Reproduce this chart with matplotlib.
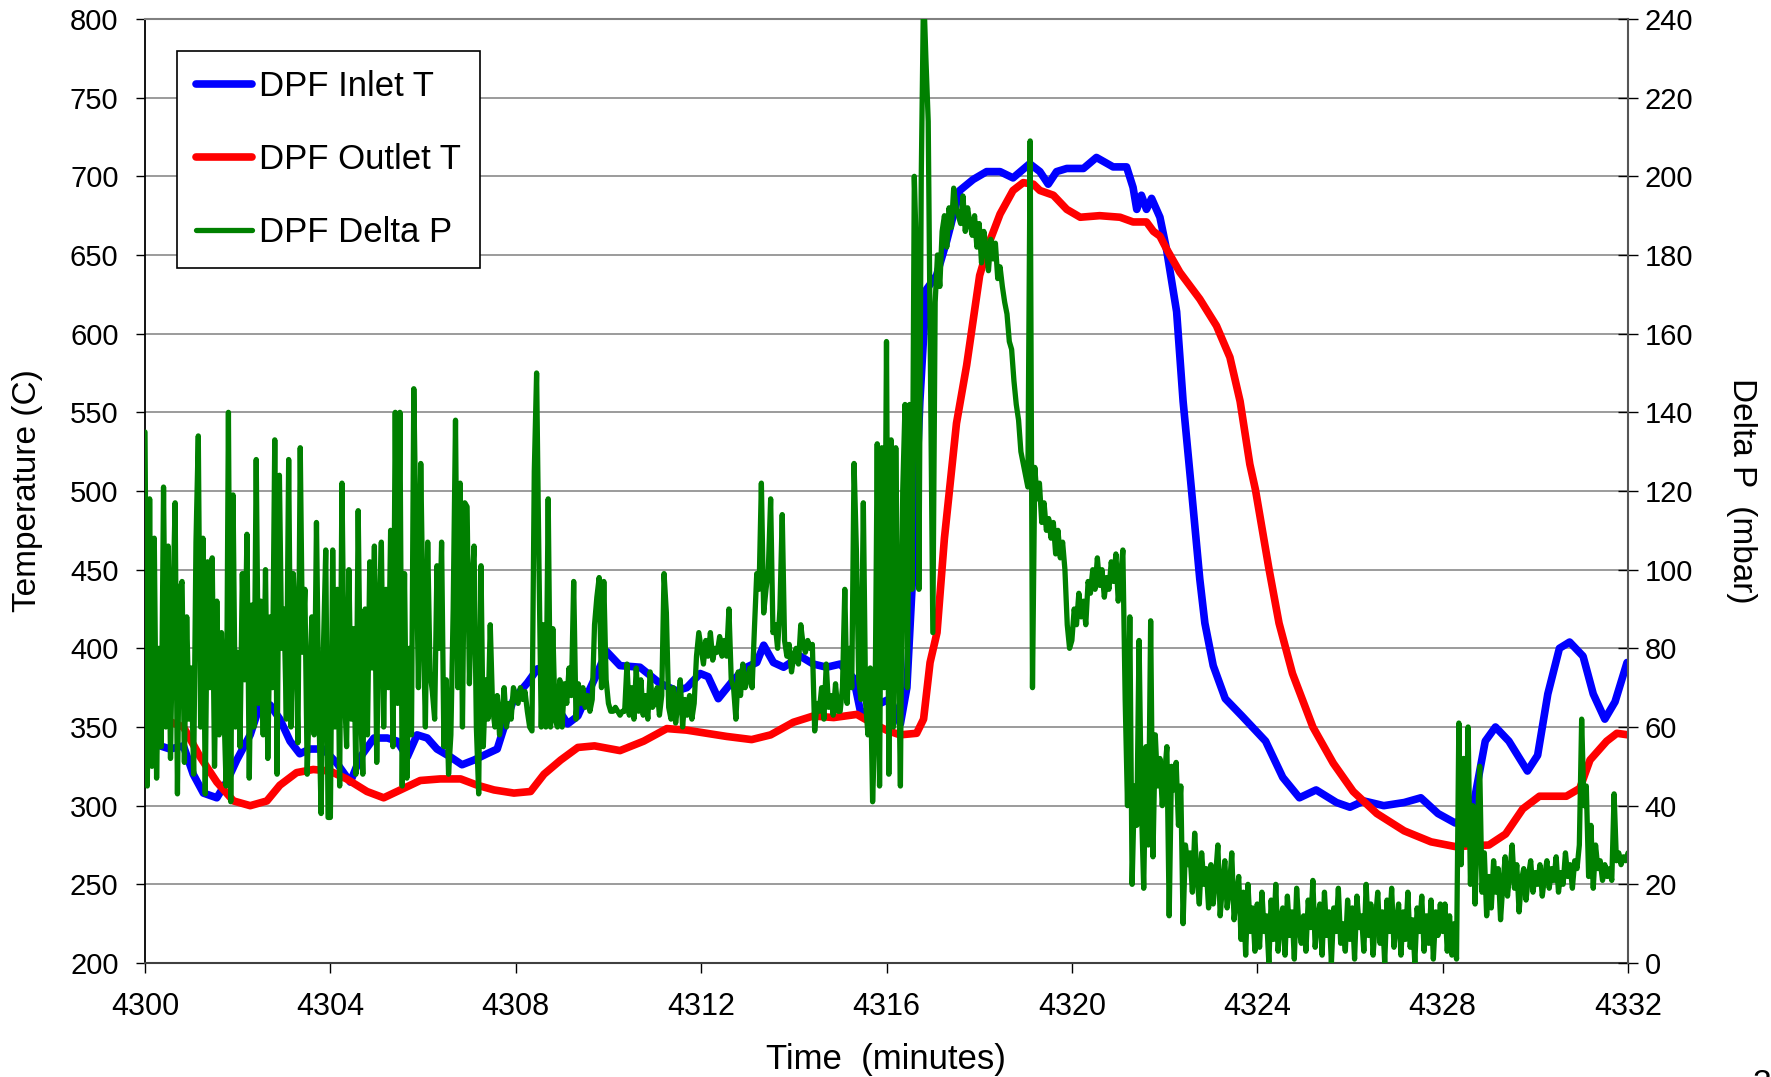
import numpy as np
import matplotlib
matplotlib.use('Agg')
import matplotlib.pyplot as plt

plt.rcParams['font.family'] = ['Liberation Sans', 'DejaVu Sans']

# DPF inlet temperature (C)
inlet_time = [4300.0, 4300.33, 4300.54, 4300.83, 4301.04, 4301.26, 4301.55, 4301.76, 4301.98,
              4302.27, 4302.48, 4302.7, 4302.91, 4303.13, 4303.34, 4303.56, 4303.85, 4304.14,
              4304.43, 4304.65, 4304.94, 4305.23, 4305.44, 4305.66, 4305.87, 4306.09, 4306.3,
              4306.59, 4306.84, 4307.1, 4307.38, 4307.6, 4307.75, 4307.96, 4308.25, 4308.47,
              4308.69, 4308.9, 4309.12, 4309.34, 4309.55, 4309.77, 4309.96, 4310.25, 4310.68,
              4311.1, 4311.47, 4311.69, 4311.98, 4312.15, 4312.37, 4312.7, 4312.98, 4313.2,
              4313.35, 4313.56, 4313.78, 4314.14, 4314.42, 4314.71, 4315.0, 4315.29, 4315.43,
              4315.58, 4315.79, 4316.08, 4316.3, 4316.44, 4316.58, 4316.72, 4316.86, 4317.08,
              4317.3, 4317.58, 4317.87, 4318.16, 4318.45, 4318.73, 4319.09, 4319.31, 4319.49,
              4319.67, 4319.89, 4320.25, 4320.53, 4320.89, 4321.18, 4321.32, 4321.4, 4321.5,
              4321.61, 4321.72, 4321.9, 4322.04, 4322.26, 4322.4, 4322.58, 4322.76, 4322.87,
              4323.05, 4323.31, 4323.67, 4324.18, 4324.55, 4324.91, 4325.27, 4325.71, 4326.0,
              4326.3, 4326.73, 4327.17, 4327.53, 4327.9, 4328.27, 4328.63, 4328.92, 4329.14,
              4329.43, 4329.83, 4330.05, 4330.27, 4330.52, 4330.74, 4331.03, 4331.25, 4331.5,
              4331.72, 4331.98]
inlet_temp = [339, 338, 336, 338, 320, 308, 305, 315, 329,
              345, 364, 364, 355, 341, 333, 336, 336, 327,
              315, 331, 343, 343, 341, 331, 345, 343, 336,
              331, 326, 329, 333, 336, 350, 368, 378, 387,
              380, 362, 352, 357, 371, 385, 398, 389, 388,
              378, 373, 375, 384, 382, 368, 380, 388, 391,
              402, 391, 388, 395, 390, 388, 390, 381, 361,
              357, 364, 368, 352, 375, 455, 557, 628, 637,
              659, 691, 698, 703, 703, 699, 708, 703, 695,
              703, 705, 705, 712, 706, 706, 693, 679, 688,
              679, 686, 674, 654, 614, 557, 501, 444, 416,
              389, 368, 357, 341, 318, 305, 310, 302, 299,
              303, 300, 302, 305, 295, 289, 295, 341, 350,
              341, 322, 332, 371, 400, 404, 395, 371, 355,
              366, 391]

# DPF outlet temperature (C)
outlet_time = [4300.0, 4300.4, 4300.83, 4301.19, 4301.55, 4301.91, 4302.27, 4302.63, 4302.91,
               4303.27, 4303.63, 4303.99, 4304.35, 4304.79, 4305.15, 4305.51, 4305.94, 4306.37,
               4306.81, 4307.17, 4307.53, 4307.96, 4308.32, 4308.61, 4308.97, 4309.34, 4309.7,
               4310.25, 4310.76, 4311.26, 4311.69, 4312.55, 4313.09, 4313.5, 4313.99, 4314.42,
               4314.86, 4315.36, 4315.72, 4316.0, 4316.29, 4316.65, 4316.8, 4316.94, 4317.09,
               4317.25, 4317.51, 4317.73, 4318.01, 4318.23, 4318.45, 4318.73, 4318.95, 4319.17,
               4319.31, 4319.6, 4319.89, 4320.18, 4320.6, 4321.04, 4321.32, 4321.61, 4321.76,
               4321.9, 4322.04, 4322.33, 4322.76, 4323.12, 4323.41, 4323.63, 4323.84, 4323.96,
               4324.25, 4324.47, 4324.76, 4325.2, 4325.64, 4326.07, 4326.58, 4327.17, 4327.75,
               4328.27, 4329.0, 4329.36, 4329.73, 4330.09, 4330.67, 4330.96, 4331.18, 4331.54,
               4331.76, 4332.0]
outlet_temp = [362, 355, 350, 331, 315, 303, 300, 303, 313,
               321, 323, 322, 317, 309, 305, 310, 316, 317,
               317, 313, 310, 308, 309, 320, 329, 337, 338,
               335, 341, 349, 348, 344, 342, 345, 353, 357,
               356, 358, 352, 348, 345, 346, 355, 391, 410,
               470, 543, 580, 637, 659, 676, 691, 696, 695,
               691, 688, 679, 674, 675, 674, 671, 671, 665,
               662, 654, 639, 622, 605, 585, 557, 517, 501,
               451, 416, 384, 350, 327, 309, 295, 284, 277,
               274, 275, 282, 298, 306, 306, 311, 329, 341,
               346, 345]

# DPF delta P (mbar), one reading every 0.05 min, one row per minute
dp_start = 4300.0
dp_step = 0.05
delta_p = [
    135, 45, 118, 50, 108, 47, 80, 55, 121, 60, 106, 52, 90, 117, 43, 95, 97, 51, 88, 62,
    75, 48, 107, 134, 60, 108, 43, 102, 70, 103, 50, 92, 58, 84, 66, 45, 140, 41, 119, 60,
    79, 55, 99, 72, 109, 47, 91, 60, 128, 66, 92, 58, 100, 52, 88, 70, 133, 48, 124, 80,
    90, 62, 128, 60, 99, 85, 56, 131, 79, 95, 48, 70, 88, 58, 112, 65, 38, 80, 105, 37,
    37, 105, 60, 95, 45, 122, 70, 55, 100, 62, 85, 48, 115, 66, 48, 90, 58, 102, 75, 106,
    51, 88, 107, 60, 95, 70, 110, 55, 140, 66, 140, 45, 99, 47, 80, 58, 146, 107, 70, 127,
    88, 60, 107, 74, 69, 62, 101, 80, 107, 55, 72, 48, 58, 90, 138, 70, 122, 60, 117, 116,
    71, 95, 106, 60, 43, 101, 55, 72, 62, 86, 65, 60, 68, 58, 63, 70, 60, 66, 62, 70,
    68, 66, 70, 67, 69, 64, 60, 59, 125, 150, 102, 60, 86, 60, 118, 60, 85, 62, 60, 72,
    60, 71, 66, 75, 68, 97, 62, 71, 66, 70, 65, 68, 64, 67, 86, 93, 98, 70, 97, 72,
    66, 64, 64, 65, 64, 63, 64, 64, 76, 63, 70, 62, 75, 64, 72, 63, 68, 62, 74, 65,
    66, 70, 63, 68, 99, 89, 65, 62, 70, 61, 66, 72, 60, 67, 63, 68, 62, 66, 78, 84,
    80, 76, 82, 78, 84, 77, 80, 79, 83, 78, 82, 78, 90, 72, 70, 62, 74, 68, 76, 70,
    72, 75, 70, 85, 99, 95, 122, 89, 95, 100, 118, 84, 86, 80, 90, 114, 82, 78, 81, 74,
    78, 80, 76, 86, 81, 79, 82, 80, 81, 59, 66, 64, 70, 62, 76, 65, 68, 63, 71, 64,
    64, 70, 95, 66, 80, 70, 127, 105, 72, 67, 117, 66, 58, 75, 41, 60, 132, 45, 131, 70,
    158, 48, 133, 60, 131, 85, 45, 120, 142, 70, 142, 95, 200, 178, 95, 200, 248, 230, 214, 150,
    84, 168, 180, 172, 186, 190, 182, 192, 187, 197, 192, 190, 188, 195, 186, 192, 188, 185, 190, 182,
    188, 178, 186, 182, 176, 184, 179, 183, 174, 177, 172, 168, 165, 158, 156, 148, 142, 138, 130, 127,
    124, 121, 209, 70, 126, 118, 122, 112, 117, 110, 113, 108, 112, 104, 110, 103, 107, 100, 86, 80,
    82, 90, 86, 94, 88, 92, 86, 97, 94, 100, 95, 103, 96, 100, 93, 98, 95, 102, 97, 104,
    92, 98, 105, 67, 40, 88, 20, 45, 35, 82, 40, 19, 55, 30, 87, 27, 58, 45, 52, 40,
    48, 55, 12, 50, 44, 51, 35, 45, 10, 30, 25, 28, 18, 33, 22, 15, 28, 20, 24, 14,
    25, 15, 22, 30, 12, 20, 26, 14, 19, 28, 11, 17, 22, 6, 18, 2, 20, 8, 14, 3,
    15, 4, 18, 8, 12, 0, 16, 6, 20, 3, 11, 14, 2, 17, 7, 13, 1, 19, 9, 5,
    12, 3, 16, 9, 21, 4, 11, 15, 2, 18, 7, 13, 0, 14, 8, 19, 5, 10, 3, 16,
    6, 14, 1, 17, 9, 12, 3, 20, 7, 15, 2, 11, 18, 5, 13, 0, 16, 8, 19, 4,
    10, 15, 2, 13, 6, 18, 4, 11, 0, 14, 8, 17, 3, 12, 5, 16, 1, 13, 7, 15,
    8, 15, 3, 12, 2, 10, 1, 61, 25, 52, 30, 60, 20, 40, 15, 35, 50, 18, 28, 12,
    22, 14, 26, 18, 24, 11, 20, 27, 17, 23, 30, 19, 25, 13, 21, 24, 16, 22, 26, 18,
    23, 20, 25, 17, 22, 26, 19, 24, 21, 27, 18, 23, 20, 28, 22, 25, 19, 26, 24, 30,
    62, 40, 45, 22, 35, 19, 30, 24, 26, 21, 25, 22, 24, 21, 43, 26, 28, 25, 27, 26,
    28,
]

time_ticks = list(range(4300, 4333, 4))
temp_ticks = list(range(200, 801, 50))
dp_ticks = list(range(0, 241, 20))


def plot_dpf(filename):
    W, H = 1771, 1077
    fig = plt.figure(figsize=(W / 100, H / 100), dpi=100)
    # plot area in pixels: x 145..1628, y 19..963
    ax = fig.add_axes([145 / W, 1 - 963 / H, (1628 - 145) / W, (963 - 19) / H])
    ax2 = ax.twinx()

    dp_time = dp_start + dp_step * np.arange(len(delta_p))

    l1, = ax.plot(inlet_time, inlet_temp, color='#0000FF', lw=5.5,
                  solid_joinstyle='round', solid_capstyle='round', label='DPF Inlet T')
    l2, = ax.plot(outlet_time, outlet_temp, color='#FF0000', lw=5.5,
                  solid_joinstyle='round', solid_capstyle='round', label='DPF Outlet T')
    l3, = ax2.plot(dp_time, delta_p, color='#008000', lw=3.8,
                   solid_joinstyle='round', solid_capstyle='round', label='DPF Delta P')

    ax.set_xlim(4300, 4332)
    ax.set_ylim(200, 800)
    ax2.set_ylim(0, 240)
    ax.set_xticks(time_ticks)
    ax.set_yticks(temp_ticks)
    ax2.set_yticks(dp_ticks)

    ax.grid(axis='y', color='#808080', lw=1.1)
    ax.set_axisbelow(True)

    ax.spines['right'].set_visible(False)
    for s in ['left', 'bottom', 'top']:
        ax2.spines[s].set_visible(False)
    ax.spines['top'].set_color('#808080')
    ax.spines['top'].set_linewidth(1.5)
    ax.spines['left'].set_linewidth(1.3)
    ax.spines['bottom'].set_linewidth(1.5)
    ax.spines['bottom'].set_color('#404040')
    ax2.spines['right'].set_color('#555555')
    ax2.spines['right'].set_linewidth(1.5)

    ax.tick_params(axis='y', direction='out', length=6.5, width=1, labelsize=21, pad=12.5)
    ax.tick_params(axis='x', direction='out', length=7, width=1, labelsize=22, pad=14)
    ax2.tick_params(axis='y', direction='inout', length=14, width=1, labelsize=21, pad=5)

    fig.text(28 / W, 1 - 491 / H, 'Temperature (C)', rotation=90,
             ha='center', va='center', fontsize=24)
    fig.text(1741 / W, 1 - 491 / H, 'Delta P  (mbar)', rotation=270,
             ha='center', va='center', fontsize=24)
    fig.text(886 / W, 1 - 1059 / H, 'Time  (minutes)',
             ha='center', va='center', fontsize=25)
    # page number cut off at the bottom edge, as in the source slide
    fig.text(1762 / W, 1 - 1069 / H, '3', ha='center', va='top', fontsize=24)

    leg = ax2.legend(handles=[l1, l2, l3], loc='upper left',
                     bbox_to_anchor=(177 / W, 1 - 51 / H), bbox_transform=fig.transFigure,
                     fontsize=25, frameon=True, fancybox=False, framealpha=1,
                     edgecolor='black', borderpad=0.55, labelspacing=1.15,
                     handlelength=1.6, handletextpad=0.2, borderaxespad=0)
    leg.get_frame().set_linewidth(1.2)

    fig.savefig(filename, dpi=100)


if __name__ == '__main__':
    plot_dpf('out.png')
